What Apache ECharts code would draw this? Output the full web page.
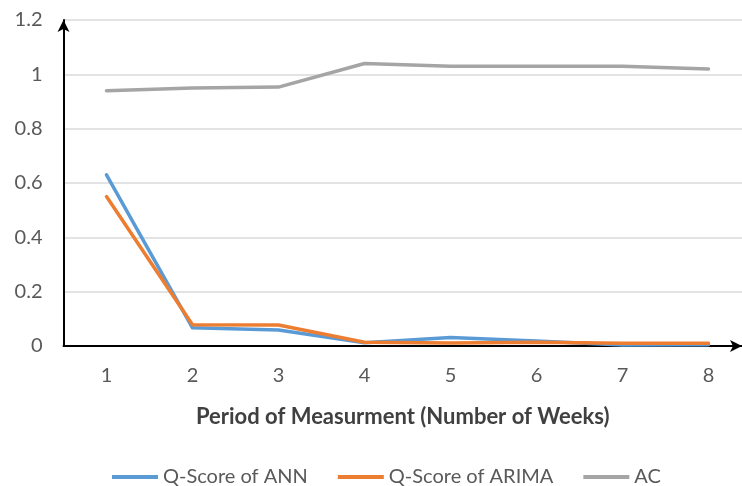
<!DOCTYPE html>
<html>
<head>
<meta charset="utf-8">
<script src="https://cdn.jsdelivr.net/npm/echarts@6/dist/echarts.min.js"></script>
<style>
  html, body { margin: 0; padding: 0; background: #fff; }
  #chart { width: 742px; height: 486px; }
</style>
</head>
<body>
<div id="chart"></div>
<script>
// Weeks of measurement and the three scores per week
const weeks = [1, 2, 3, 4, 5, 6, 7, 8];
const annScore = [0.63, 0.067, 0.059, 0.012, 0.031, 0.018, 0.004, 0.005];
const arimaScore = [0.55, 0.078, 0.077, 0.014, 0.011, 0.014, 0.01, 0.01];
const acScore = [0.94, 0.95, 0.953, 1.04, 1.03, 1.03, 1.03, 1.02];
const yTicks = [0, 0.2, 0.4, 0.6, 0.8, 1, 1.2];

const font = 'Lato, "Open Sans", sans-serif';
const pairs = vals => weeks.map((w, i) => [w, vals[i]]);

const chart = echarts.init(document.getElementById('chart'), null, { renderer: 'canvas' });

const lineSeries = (name, vals, color) => ({
  name,
  type: 'line',
  data: pairs(vals),
  showSymbol: false,
  symbol: 'none',
  lineStyle: { color, width: 3.5, cap: 'round', join: 'round' },
  itemStyle: { color },
  emphasis: { disabled: true },
  animation: false
});

chart.setOption({
  backgroundColor: '#ffffff',
  animation: false,
  grid: { left: 63.5, right: 0, top: 20, bottom: 140, containLabel: false },
  xAxis: {
    type: 'value',
    min: 0.5,
    max: 8.39,
    name: 'Period of Measurment (Number of Weeks)',
    nameLocation: 'middle',
    nameGap: 60,
    nameTextStyle: { fontFamily: font, fontSize: 22, fontWeight: 'bold', color: '#404040' },
    axisLine: {
      show: true,
      symbol: ['none', 'arrow'],
      symbolSize: [9, 12],
      lineStyle: { color: '#000', width: 2 }
    },
    axisTick: { show: false },
    splitLine: { show: false },
    axisLabel: {
      customValues: weeks,
      margin: 20,
      fontFamily: font,
      fontSize: 20,
      color: '#595959'
    }
  },
  yAxis: {
    type: 'value',
    min: 0,
    max: 1.2,
    interval: 0.2,
    axisLine: {
      show: true,
      symbol: ['none', 'arrow'],
      symbolSize: [9, 12],
      lineStyle: { color: '#000', width: 2 }
    },
    axisTick: { show: false },
    splitLine: { show: true, lineStyle: { color: '#e3e3e3', width: 2 } },
    axisLabel: {
      customValues: yTicks,
      margin: 21,
      fontFamily: font,
      fontSize: 20,
      color: '#595959',
      formatter: v => String(Math.round(v * 10) / 10)
    }
  },
  legend: {
    top: 462,
    left: 107,
    itemWidth: 46,
    itemHeight: 4,
    itemGap: 30,
    icon: 'rect',
    textStyle: { fontFamily: font, fontSize: 20, color: '#595959' },
    data: ['Q-Score of ANN', 'Q-Score of ARIMA', 'AC']
  },
  series: [
    lineSeries('AC', acScore, '#a5a5a5'),
    lineSeries('Q-Score of ANN', annScore, '#5b9bd5'),
    lineSeries('Q-Score of ARIMA', arimaScore, '#ed7d31')
  ]
});
</script>
</body>
</html>
